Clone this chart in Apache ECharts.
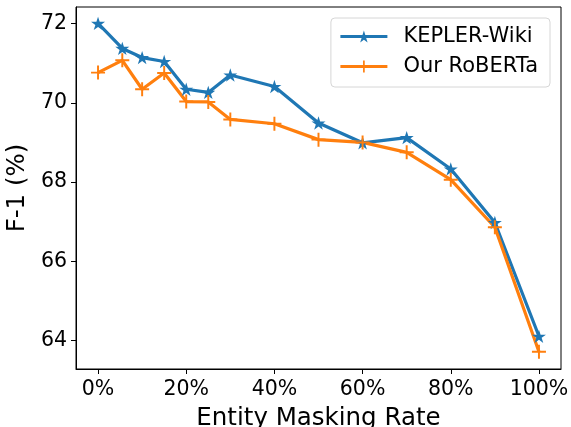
<!DOCTYPE html>
<html><head><meta charset="utf-8">
<script src="https://cdn.jsdelivr.net/npm/echarts@6/dist/echarts.min.js"></script>
<style>html,body{margin:0;padding:0;background:#fff}#c{width:571px;height:427px}</style>
</head><body><div id="c"></div>
<script>
const maskRates = [0, 5.5, 10, 15, 20, 25, 30, 40, 50, 60, 70, 80, 90, 100];
const keplerWiki = [72.0, 71.37, 71.14, 71.04, 70.34, 70.26, 70.70, 70.41, 69.49, 68.99, 69.12, 68.33, 66.98, 64.11];
const ourRoberta = [70.76, 71.07, 70.34, 70.75, 70.03, 70.02, 69.58, 69.47, 69.07, 69.0, 68.75, 68.06, 66.86, 63.72];
const xTicks = [0, 20, 40, 60, 80, 100];
const yTicks = [64, 66, 68, 70, 72];
const seriesNames = ['KEPLER-Wiki', 'Our RoBERTa'];

const FONT = 'DejaVu Sans';
const STAR = 'path://M50,0L61.2,34.5L97.6,34.5L68.2,55.9L79.4,90.5L50,69.1L20.6,90.5L31.8,55.9L2.4,34.5L38.8,34.5Z';
const PLUS = 'path://M43,0H57V43H100V57H57V100H43V57H0V43H43Z';
const pairs = a => maskRates.map((x, i) => [x, a[i]]);

const chart = echarts.init(document.getElementById('c'), null, {renderer: 'canvas'});
chart.setOption({
  animation: false,
  backgroundColor: '#fff',
  textStyle: {fontFamily: FONT},
  grid: {left: 76, right: 10, top: 7, bottom: 58, outerBoundsMode: 'none', containLabel: false,
         show: true, borderColor: '#000', borderWidth: 1, backgroundColor: 'transparent'},
  legend: {
    orient: 'vertical', right: 21, top: 18,
    data: seriesNames,
    itemWidth: 47, itemHeight: 15, itemGap: 9,
    padding: [8, 12, 10, 8],
    lineStyle: {width: 3},
    backgroundColor: '#fff', borderColor: '#d6d6d6', borderWidth: 1, borderRadius: 4,
    textStyle: {fontFamily: FONT, fontSize: 21, color: '#000', padding: [0, 0, 0, 11]}
  },
  xAxis: {
    type: 'value', min: -5, max: 105,
    name: 'Entity Masking Rate', nameLocation: 'middle', nameGap: 37,
    nameTextStyle: {fontFamily: FONT, fontSize: 24.5, color: '#000'},
    axisLine: {show: true, onZero: false, lineStyle: {color: '#000', width: 1}},
    axisTick: {show: true, length: 5, lineStyle: {color: '#000'}, customValues: xTicks},
    axisLabel: {fontFamily: FONT, fontSize: 20.5, color: '#000', margin: 10, customValues: xTicks, formatter: v => v + '%'},
    splitLine: {show: false}
  },
  yAxis: {
    type: 'value', min: 63.285, max: 72.415,
    name: 'F-1 (%)', nameLocation: 'middle', nameGap: 43,
    nameTextStyle: {fontFamily: FONT, fontSize: 24.5, color: '#000'},
    axisLine: {show: true, onZero: false, lineStyle: {color: '#000', width: 1}},
    axisTick: {show: true, length: 5, lineStyle: {color: '#000'}, customValues: yTicks},
    axisLabel: {fontFamily: FONT, fontSize: 20.5, color: '#000', margin: 9, customValues: yTicks, formatter: v => String(v)},
    splitLine: {show: false}
  },
  series: [
    {name: seriesNames[0], type: 'line', data: pairs(keplerWiki), color: '#1f77b4',
     lineStyle: {width: 3.2, color: '#1f77b4'}, symbol: STAR, symbolSize: 14, symbolKeepAspect: true,
     itemStyle: {color: '#1f77b4'}, showAllSymbol: true},
    {name: seriesNames[1], type: 'line', data: pairs(ourRoberta), color: '#ff7f0e',
     lineStyle: {width: 3.2, color: '#ff7f0e'}, symbol: PLUS, symbolSize: 14, symbolKeepAspect: true,
     itemStyle: {color: '#ff7f0e'}, showAllSymbol: true}
  ]
});
</script></body></html>
